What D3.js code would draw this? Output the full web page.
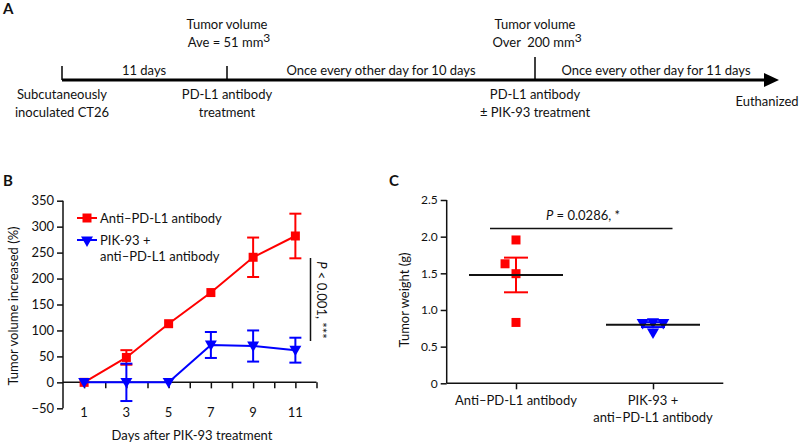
<!DOCTYPE html>
<html><head><meta charset="utf-8">
<script src="https://cdn.jsdelivr.net/npm/d3@7"></script>
<style>
body{margin:0;background:#fff}
svg{display:block}
text{font-family:Lato,"Noto Sans",sans-serif;fill:#111}
</style>
</head><body>
<svg id="chart" width="800" height="444"></svg>
<script>
// ---------- Panel B data ----------
const days = [1, 3, 5, 7, 9, 11];
const antiMean = [0, 48, 113, 173, 241, 282];
const antiErr = [0, 14, 0, 0, 38, 43];
const comboMean = [0, 0, 0, 72, 70, 62];
const comboErr = [0, 36, 0, 25, 30, 24];
const dayTicks = [1, 3, 5, 7, 9, 11];
const volumeTicks = [-50, 0, 50, 100, 150, 200, 250, 300, 350];
const seriesNames = ["Anti–PD-L1 antibody", "PIK-93 +", "anti–PD-L1 antibody"];

// ---------- Panel C data ----------
const groups = ["anti", "combo"];
const groupLabels = [["Anti–PD-L1 antibody"], ["PIK-93 +", "anti–PD-L1 antibody"]];
const antiWeights = [1.955, 1.63, 1.495, 0.83];
const antiJitter = [0, -0.08, 0, 0];
const comboWeights = [0.83, 0.84, 0.83, 0.70];
const comboJitter = [-0.075, 0, 0.075, 0];
const weightTicks = [0, 0.5, 1.0, 1.5, 2.0, 2.5];

const RED = "#ff0000", BLUE = "#0000ff", INK = "#111";
const svg = d3.select("#chart");

// ================= Panel A : timeline =================
const A = svg.append("g");
A.append("text").attr("x", 3).attr("y", 14).attr("font-weight", 700).attr("font-size", 15).text("A");
const lineY = 80;
A.append("line").attr("x1", 62).attr("x2", 768).attr("y1", lineY).attr("y2", lineY)
  .attr("stroke", "#000").attr("stroke-width", 3);
A.append("path").attr("d", `M764,${lineY-7}L779,${lineY}L764,${lineY+7}Z`).attr("fill", "#000");
[[62, 66], [227, 66], [535, 57]].forEach(([x, top]) => {
  A.append("line").attr("x1", x).attr("x2", x).attr("y1", top).attr("y2", lineY)
    .attr("stroke", "#000").attr("stroke-width", 1.5);
});
function tl(x, y, s, anchor) {
  return A.append("text").attr("x", x).attr("y", y).attr("text-anchor", anchor || "middle")
    .attr("font-size", 13).text(s);
}
tl(144, 75, "11 days");
tl(381, 75, "Once every other day for 10 days");
tl(656, 75, "Once every other day for 11 days");
tl(227, 29, "Tumor volume");
const t1 = A.append("text").attr("x", 229).attr("y", 47).attr("text-anchor", "middle").attr("font-size", 13);
t1.append("tspan").text("Ave = 51 mm");
t1.append("tspan").attr("dy", -5).attr("font-size", 12).text("3");
tl(535, 29, "Tumor volume");
const t2 = A.append("text").attr("x", 537).attr("y", 47).attr("text-anchor", "middle").attr("font-size", 13);
t2.append("tspan").text("Over\u00a0\u00a0200 mm");
t2.append("tspan").attr("dy", -5).attr("font-size", 12).text("3");
tl(62, 99, "Subcutaneously");
tl(62, 117, "inoculated CT26");
tl(227, 99, "PD-L1 antibody");
tl(227, 117, "treatment");
tl(535, 99, "PD-L1 antibody");
tl(535, 117, "± PIK-93 treatment");
tl(767, 106, "Euthanized");

// ================= Panel B : line chart =================
const B = svg.append("g");
B.append("text").attr("x", 3).attr("y", 186).attr("font-weight", 700).attr("font-size", 15).text("B");
const xB = d3.scaleLinear().domain([0, 12]).range([63, 316.5]);
const yB = d3.scaleLinear().domain([-50, 350]).range([408.3, 200.7]);

const yAxB = B.append("g").attr("transform", `translate(${xB(0)},0)`)
  .call(d3.axisLeft(yB).tickValues(volumeTicks).tickSize(6).tickPadding(3).tickFormat(d => d < 0 ? "\u2212" + Math.abs(d) : d));
const xAxB = B.append("g").attr("transform", `translate(0,${yB(0)})`)
  .call(d3.axisBottom(xB).tickValues(d3.range(1, 13)).tickSize(6).tickFormat(""));
[yAxB, xAxB].forEach(g => {
  g.select(".domain").attr("stroke", INK).attr("stroke-width", 1.5);
  g.selectAll(".tick line").attr("stroke", INK).attr("stroke-width", 1.5);
});
xAxB.select(".domain").attr("d", `M${xB(0)},0H${xB(12)}`);
yAxB.select(".domain").attr("d", `M0,${yB(350)}V${yB(-50)}`);
yAxB.selectAll(".tick text").attr("font-size", 13).attr("font-family", "Lato,'Noto Sans',sans-serif").attr("fill", INK);
B.append("g").selectAll("text").data(dayTicks).join("text")
  .attr("x", d => xB(d)).attr("y", 417).attr("text-anchor", "middle").attr("font-size", 13).text(d => d);
B.append("text").attr("x", 192).attr("y", 440).attr("text-anchor", "middle").attr("font-size", 13)
  .text("Days after PIK-93 treatment");
B.append("text").attr("transform", `translate(18,306) rotate(-90)`).attr("text-anchor", "middle")
  .attr("font-size", 13).text("Tumor volume increased (%)");

const sq = d3.symbol().type(d3.symbolSquare).size(81);
const tri = d3.symbol().type(d3.symbolTriangle).size(62);

function drawSeries(means, errs, color, marker) {
  const data = days.map((d, i) => ({x: d, y: means[i], e: errs[i]}));
  const g = B.append("g");
  g.append("path").datum(data).attr("fill", "none").attr("stroke", color).attr("stroke-width", 2)
    .attr("d", d3.line().x(d => xB(d.x)).y(d => yB(d.y)));
  const eb = g.selectAll("g.eb").data(data.filter(d => d.e > 0)).join("g");
  eb.append("line").attr("x1", d => xB(d.x)).attr("x2", d => xB(d.x))
    .attr("y1", d => yB(d.y - d.e)).attr("y2", d => yB(d.y + d.e)).attr("stroke", color).attr("stroke-width", 2);
  [1, -1].forEach(s => {
    eb.append("line").attr("x1", d => xB(d.x) - 6).attr("x2", d => xB(d.x) + 6)
      .attr("y1", d => yB(d.y + s * d.e)).attr("y2", d => yB(d.y + s * d.e)).attr("stroke", color).attr("stroke-width", 2);
  });
  g.selectAll("path.m").data(data).join("path").attr("class", "m")
    .attr("transform", d => `translate(${xB(d.x)},${yB(d.y) - (marker === tri ? 1 : 0)}) rotate(${marker === tri ? 180 : 0})`)
    .attr("d", marker()).attr("fill", color);
}
drawSeries(antiMean, antiErr, RED, sq);
drawSeries(comboMean, comboErr, BLUE, tri);

const lg = B.append("g");
lg.append("line").attr("x1", 77).attr("x2", 97).attr("y1", 218).attr("y2", 218).attr("stroke", RED).attr("stroke-width", 2);
lg.append("path").attr("transform", "translate(87,218)").attr("d", sq()).attr("fill", RED);
lg.append("text").attr("x", 100).attr("y", 222.5).attr("font-size", 13).text(seriesNames[0]);
lg.append("line").attr("x1", 77).attr("x2", 97).attr("y1", 240).attr("y2", 240).attr("stroke", BLUE).attr("stroke-width", 2);
lg.append("path").attr("transform", "translate(87,240) rotate(180)").attr("d", tri()).attr("fill", BLUE);
lg.append("text").attr("x", 100).attr("y", 245).attr("font-size", 13).text(seriesNames[1]);
lg.append("text").attr("x", 100).attr("y", 261).attr("font-size", 13).text(seriesNames[2]);

B.append("line").attr("x1", 310.5).attr("x2", 310.5).attr("y1", 258).attr("y2", 341).attr("stroke", INK).attr("stroke-width", 1.5);
const sig = B.append("text").attr("transform", "translate(317,300) rotate(90)").attr("text-anchor", "middle").attr("font-size", 13);
sig.append("tspan").attr("font-style", "italic").text("P");
sig.append("tspan").text(" < 0.001, ***");

// ================= Panel C : dot plot =================
const C = svg.append("g");
C.append("text").attr("x", 389).attr("y", 186).attr("font-weight", 700).attr("font-size", 15).text("C");
const xC = d3.scalePoint().domain(groups).range([516, 653]);
const step = xC(groups[1]) - xC(groups[0]);
const yC = d3.scaleLinear().domain([0, 2.5]).range([383.3, 200]);
const x0C = 446.7, x1C = 723.3;

const yAxC = C.append("g").attr("transform", `translate(${x0C},0)`)
  .call(d3.axisLeft(yC).tickValues(weightTicks).tickSize(6).tickPadding(3).tickFormat(d => d === 0 ? "0" : d3.format(".1f")(d)));
const xAxC = C.append("g").attr("transform", `translate(0,${yC(0)})`)
  .call(d3.axisBottom(xC).tickSize(6).tickFormat(""));
[yAxC, xAxC].forEach(g => {
  g.select(".domain").attr("stroke", INK).attr("stroke-width", 1.5);
  g.selectAll(".tick line").attr("stroke", INK).attr("stroke-width", 1.5);
});
xAxC.select(".domain").attr("d", `M${x0C},0H${x1C}`);
yAxC.select(".domain").attr("d", `M0,${yC(2.5)}V${yC(0)}`);
yAxC.selectAll(".tick text").attr("font-size", 12).attr("font-family", "Lato,'Noto Sans',sans-serif").attr("fill", INK);
groups.forEach((g, i) => {
  groupLabels[i].forEach((s, j) => {
    C.append("text").attr("x", xC(g)).attr("y", 405 + j * 17).attr("text-anchor", "middle").attr("font-size", 13).text(s);
  });
});
C.append("text").attr("transform", `translate(409,300) rotate(-90)`).attr("text-anchor", "middle")
  .attr("font-size", 13).text("Tumor weight (g)");

function drawGroup(key, vals, jit, color, marker, rot) {
  const m = d3.mean(vals);
  const sem = d3.deviation(vals) / Math.sqrt(vals.length);
  const cx = xC(key);
  vals.forEach((v, i) => {
    C.append("path").attr("transform", `translate(${cx + jit[i] * step},${yC(v)}) rotate(${rot})`)
      .attr("d", marker()).attr("fill", color);
  });
  C.append("line").attr("x1", cx).attr("x2", cx).attr("y1", yC(m - sem)).attr("y2", yC(m + sem)).attr("stroke", color).attr("stroke-width", 2);
  [1, -1].forEach(s => C.append("line").attr("x1", cx - 12).attr("x2", cx + 12)
    .attr("y1", yC(m + s * sem)).attr("y2", yC(m + s * sem)).attr("stroke", color).attr("stroke-width", 2));
  C.append("line").attr("x1", cx - 47).attr("x2", cx + 47).attr("y1", yC(m)).attr("y2", yC(m))
    .attr("stroke", INK).attr("stroke-width", 2);
}
drawGroup("anti", antiWeights, antiJitter, RED, d3.symbol().type(d3.symbolSquare).size(81), 0);
drawGroup("combo", comboWeights, comboJitter, BLUE, d3.symbol().type(d3.symbolTriangle).size(64), 180);

C.append("line").attr("x1", 490).attr("x2", 672.5).attr("y1", yC(2.11)).attr("y2", yC(2.11)).attr("stroke", INK).attr("stroke-width", 1.5);
const sigC = C.append("text").attr("x", 583).attr("y", 220).attr("text-anchor", "middle").attr("font-size", 13);
sigC.append("tspan").attr("font-style", "italic").text("P");
sigC.append("tspan").text(" = 0.0286, *");
</script>
</body></html>
